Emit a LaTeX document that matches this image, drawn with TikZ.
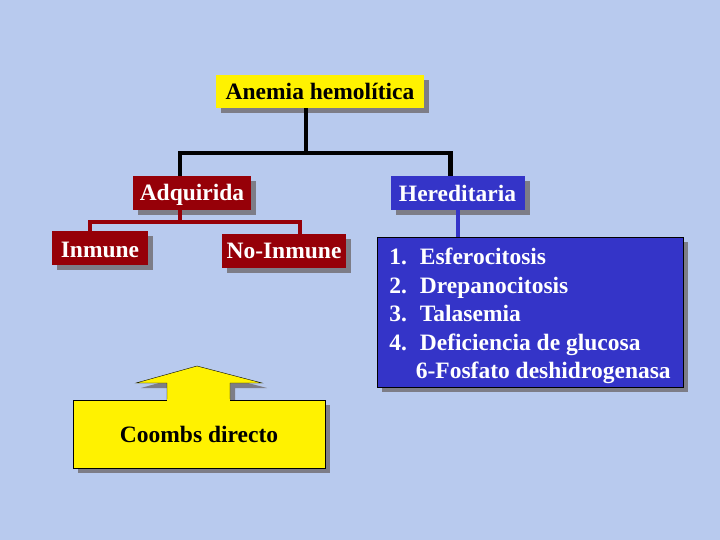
\documentclass[tikz,border=0pt]{standalone}
\usepackage{fontspec}
\setmainfont{Liberation Serif}
\usetikzlibrary{shadows}
\definecolor{fondo}{RGB}{184,202,238}
\definecolor{rojo}{RGB}{150,0,8}
\definecolor{azul}{RGB}{52,52,200}
\definecolor{sombra}{RGB}{125,125,135}
\def\sep{5pt}
\tikzset{caja/.style={font=\fontsize{23.5}{28.5}\selectfont\bfseries, inner sep=0pt,
    drop shadow={shadow xshift=\sep, shadow yshift=-\sep, fill=sombra, opacity=1}}}
\tikzset{amarilla/.style={caja, fill=yellow, text=black}}
\tikzset{roja/.style={caja, fill=rojo, text=white, minimum height=34pt}}
\tikzset{azulcaja/.style={caja, fill=azul, text=white}}
\tikzset{negra/.style={line width=4.5pt, black}}
\tikzset{rama/.style={line width=4.5pt, rojo}}

\begin{document}
\begin{tikzpicture}[x=1pt,y=-1pt]
  % Fondo
  \fill[fondo] (0,0) rectangle (720,540);
  \useasboundingbox (0,0) rectangle (720,540);

  % Cajas
  \node[amarilla, minimum width=208pt, minimum height=33pt] (anemia) at (320,91.5) {Anemia hemolítica};
  \node[roja, minimum width=118pt] (adq) at (192,193) {\raisebox{-2pt}[\height][\depth]{Adquirida}};
  \node[roja, minimum width=96pt] (inmune) at (100,248) {\raisebox{-2pt}[\height][\depth]{Inmune}};
  \node[roja, minimum width=124pt] (noinmune) at (284,251) {No-Inmune};
  \node[azulcaja, minimum width=134pt, minimum height=34pt] (her) at (457.5,193) {Hereditaria};
  \node[azulcaja, draw=black, thin, minimum width=306pt, minimum height=150pt] (lista) at (530,312)
    {\raisebox{-4pt}[\height][\depth]{\begin{tabular}{@{}l@{\hspace{13pt}}l@{}}
      1. & Esferocitosis\\
      2. & Drepanocitosis\\
      3. & Talasemia\\
      4. & Deficiencia de glucosa\\
         & \hspace{-4pt}6-Fosfato deshidrogenasa
     \end{tabular}}};

  % Conectores
  \draw[negra] ([xshift=-14pt]anemia.south) -- ++(0,45) coordinate (nudo);
  \draw[negra] ([xshift=-12pt]adq.north) |- (nudo) -| ([xshift=-7pt]her.north);
  \draw[rama] ([xshift=-12pt]adq.south) -- ++(0,12) coordinate (nudoR);
  \draw[rama] ([xshift=-10pt]inmune.north) |- (nudoR) -| ([xshift=16pt]noinmune.north);
  \draw[line width=4pt, azul] (her.south) -- (her.south |- lista.north);

  % Flecha y Coombs
  \coordinate (cb) at (199,434);
  \coordinate (cbtop) at (199,400);
  \filldraw[fill=yellow, draw=black, thin,
    drop shadow={shadow xshift=\sep, shadow yshift=-\sep, fill=sombra, opacity=1}]
    ([xshift=-32pt]cbtop) -- ++(0,-17) -- ++(-31,0) -- ++(61,-17) -- ++(65,17)
    -- ++(-32,0) -- ++(0,17);
  \node[amarilla, draw=black, thin,
    minimum width=252pt, minimum height=68pt] (coombs) at (cb) {Coombs directo};
  \fill[yellow] ([xshift=-31.6pt,yshift=-1pt]coombs.north) rectangle ([xshift=30.6pt,yshift=1pt]coombs.north);
\end{tikzpicture}
\end{document}
